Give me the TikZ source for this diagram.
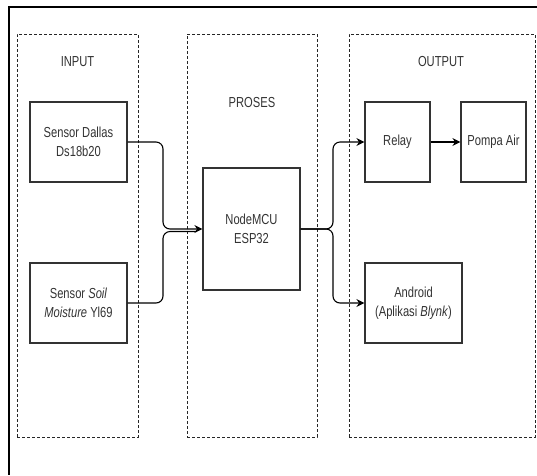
\documentclass[tikz,border=0pt]{standalone}
\usepackage{fontspec}
\setmainfont{Liberation Sans}[FakeStretch=0.77]
\usetikzlibrary{arrows.meta}
\definecolor{txt}{HTML}{333333}

\begin{document}
\begin{tikzpicture}[x=1pt,y=-1pt, font=\fontsize{14.5}{19}\selectfont, text=txt,
  grp/.style={draw=black!85,dashed,dash pattern=on 3pt off 2pt,line width=0.8pt,inner sep=0pt},
  box/.style={draw=black!80,line width=1.2pt,align=center,inner sep=0pt,minimum width=97pt,minimum height=80pt},
  link/.style={-{Stealth[length=8pt,width=8pt]},line width=1.1pt,rounded corners=7pt}]
\useasboundingbox (0,0) rectangle (537,475);
\draw[line width=1.3pt] (537,7) -- (9,7) -- (9,475);
\node[grp, minimum width=121pt, minimum height=403pt] (gin) at (77.5,235.5) {};
\node[grp, minimum width=130pt, minimum height=403pt] (gpro) at (252,235.5) {};
\node[grp, minimum width=186pt, minimum height=403pt] (gout) at (442,235.5) {};
\node (lin) at (77.5,62) {INPUT};
\node (lpro) at (252,103) {PROSES};
\node (lout) at (441,62) {OUTPUT};
\node[box] (dallas) at (78.5,142) {Sensor Dallas\\Ds18b20};
\node[box] (soil) at (78.5,303) {Sensor \textit{Soil}\\\textit{Moisture} Yl69};
\node[box, minimum height=122pt] (mcu) at (251.5,229) {NodeMCU\\ESP32};
\node[box, minimum width=65pt] (relay) at (397.5,142) {Relay};
\node[box, minimum width=65pt] (pompa) at (493.5,142) {Pompa Air};
\node[box] (android) at (413.5,303) {Android\\(Aplikasi \textit{Blynk})};
\draw[link] (dallas.east) -| (163,229) -- (mcu.west);
\draw[link, -] (soil.east) -| (163,231.5) -- ([xshift=-6pt,yshift=-2.5pt]mcu.west);
\draw[link] (mcu.east) -| (333,142) -- (relay.west);
\draw[link] (mcu.east) -| (333,303) -- (android.west);
\draw[link] (relay) -- (pompa);
\end{tikzpicture}
\end{document}
